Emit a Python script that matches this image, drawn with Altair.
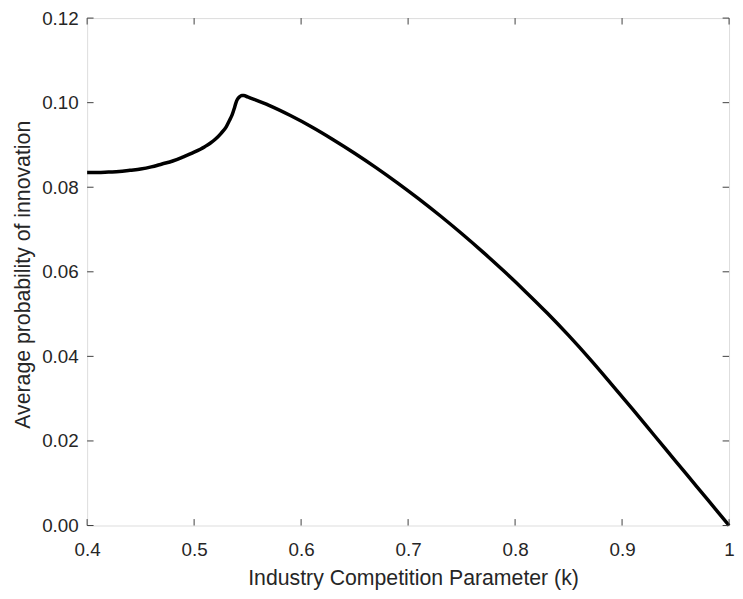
import altair as alt
import pandas as pd

# Curve values
k_values = [0.400, 0.410, 0.420, 0.430, 0.440, 0.450, 0.460, 0.470, 0.480, 0.490,
            0.500, 0.510, 0.515, 0.520, 0.525, 0.530, 0.533, 0.5355, 0.5375, 0.539, 0.5405,
            0.5425, 0.5445, 0.5465, 0.550, 0.570, 0.590, 0.610, 0.630, 0.650, 0.670,
            0.690, 0.710, 0.730, 0.750, 0.770, 0.790, 0.810, 0.830, 0.850, 0.870,
            0.890, 0.910, 0.930, 0.950, 0.970, 0.990, 1.000]
p_values = [0.0835, 0.0835, 0.0836, 0.0837, 0.0840, 0.0843, 0.0848, 0.0855, 0.0862, 0.0872,
            0.0883, 0.0896, 0.0904, 0.0914, 0.0927, 0.0943, 0.0958, 0.0971, 0.0986, 0.0999, 0.1008,
            0.1014, 0.1017, 0.1017, 0.10135, 0.09935, 0.09695, 0.09425, 0.09125, 0.08805, 0.08465,
            0.08105, 0.07725, 0.07325, 0.06905, 0.06465, 0.06005, 0.05525, 0.05025, 0.04495, 0.03935,
            0.03345, 0.02745, 0.02135, 0.01525, 0.00915, 0.00305, 0.0000]

x_ticks = [0.4, 0.5, 0.6, 0.7, 0.8, 0.9, 1.0]
y_ticks = [0.0, 0.02, 0.04, 0.06, 0.08, 0.10, 0.12]

x_title = "Industry Competition Parameter (k)"
y_title = "Average probability of innovation"

W, H = 649, 513
TICK = 6.5
AXIS_COLOR = "#404040"
TEXT_COLOR = "#262626"
FONT = "Liberation Sans"

curve = pd.DataFrame({"k": k_values, "p": p_values})
xt = pd.DataFrame({"k": x_ticks})
yt = pd.DataFrame({"p": y_ticks})

xscale = alt.Scale(domain=[0.4, 1.0], nice=False, zero=False)
yscale = alt.Scale(domain=[0.0, 0.12], nice=False, zero=False)

line = alt.Chart(curve).mark_line(color="black", strokeWidth=3.5, clip=False,
                                  interpolate="monotone").encode(
    x=alt.X("k:Q", scale=xscale,
            axis=alt.Axis(values=x_ticks, title=x_title, grid=False, ticks=False, tickSize=0,
                          domain=False, labelPadding=15, labelFontSize=19, labelFont=FONT,
                          labelColor=TEXT_COLOR, labelFlush=False, labelOverlap=False,
                          labelExpr="datum.value == 1 ? '1' : format(datum.value, '.1f')",
                          titleFont=FONT, titleFontSize=21.5, titleFontWeight="normal",
                          titleColor=TEXT_COLOR, titleBaseline="alphabetic",
                          titleX=329.5, titleY=60, titleAnchor="middle")),
    y=alt.Y("p:Q", scale=yscale,
            axis=alt.Axis(values=y_ticks, title=y_title, grid=False, ticks=False, tickSize=0,
                          domain=False, labelPadding=9, labelFontSize=19, labelFont=FONT,
                          labelColor=TEXT_COLOR, format=".2f", labelFlush=False,
                          labelOverlap=False,
                          titleFont=FONT, titleFontSize=21.5, titleFontWeight="normal",
                          titleColor=TEXT_COLOR, titleBaseline="alphabetic",
                          titleX=-58, titleY=259, titleAngle=-90, titleAnchor="middle")),
)

x_bottom = alt.Chart(xt).mark_rule(color=AXIS_COLOR, strokeWidth=1).encode(
    x=alt.X("k:Q", scale=xscale), y=alt.value(H), y2=alt.value(H - TICK))
x_top = alt.Chart(xt).mark_rule(color=AXIS_COLOR, strokeWidth=1).encode(
    x=alt.X("k:Q", scale=xscale), y=alt.value(0), y2=alt.value(TICK))
y_left = alt.Chart(yt).mark_rule(color=AXIS_COLOR, strokeWidth=1).encode(
    y=alt.Y("p:Q", scale=yscale), x=alt.value(0), x2=alt.value(TICK))
y_right = alt.Chart(yt).mark_rule(color=AXIS_COLOR, strokeWidth=1).encode(
    y=alt.Y("p:Q", scale=yscale), x=alt.value(W), x2=alt.value(W - TICK))

chart = alt.layer(line, x_bottom, x_top, y_left, y_right).properties(
    width=W, height=H,
    autosize=alt.AutoSizeParams(type="none"),
    padding={"left": 80, "top": 7, "right": 6, "bottom": 62},
).configure_view(
    stroke=AXIS_COLOR, strokeWidth=1, fill="white"
).configure(background="white")

chart.save("out.html", embed_options={"renderer": "svg", "actions": False})
